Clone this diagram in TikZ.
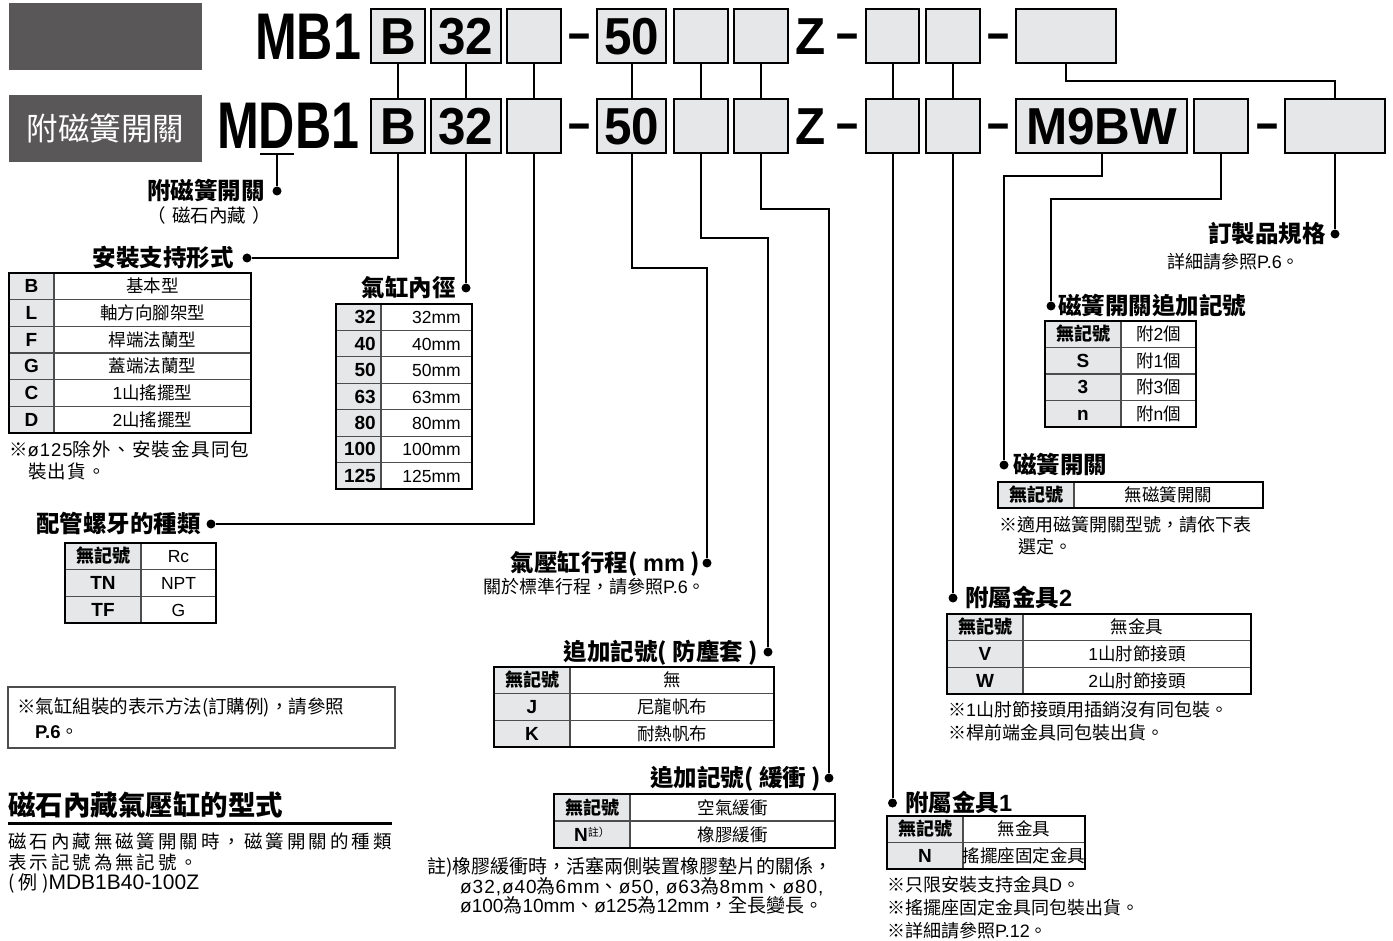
\documentclass[tikz,border=0pt]{standalone}
\usepackage{fontspec}
\usepackage{graphicx}
\setmainfont{Noto Sans CJK TC}
\newfontfamily\latf{Liberation Sans}
\newfontfamily\latls{Liberation Sans}[LetterSpace=5]
\newfontfamily\cjkls{Noto Sans CJK TC}[LetterSpace=16]
\newfontfamily\cjkl{Noto Sans CJK TC}[LetterSpace=7]
\newcommand\fs[1]{\fontsize{#1}{#1}\selectfont}
\newcommand\lt[1]{{\latf #1}}
\newcommand\lts[1]{{\latls #1}}
\newcommand\kb[1]{{\latf\bfseries\fs{19}#1}}
\newcommand\ctx[1]{{\latf\bfseries\fs{52}\scalebox{0.95}[1]{#1}}}
\newcommand\cbig[1]{{\latf\bfseries\fs{66}\scalebox{0.76}[1]{#1}}}
\newcommand\cdash{{\latf\bfseries\fs{52}\scalebox{0.76}[1]{–}}}
\definecolor{boxgray}{HTML}{E6E7E8}
\definecolor{darkbox}{HTML}{595757}
\definecolor{rule}{HTML}{4D4D4D}
\newcommand\tbl[8]{%
  \foreach \kk/\vv [count=\ii] in {#8}{%
    \pgfmathsetmacro\ya{#5+(\ii-1)*(#6-#5)/#7}%
    \pgfmathsetmacro\yb{#5+\ii*(#6-#5)/#7}%
    \path[kcell] (#2,\ya) rectangle (#3,\yb);
    \path[vcell] (#3,\ya) rectangle (#4,\yb);
    \node[ktxt] (#1k\ii) at ({(#2+#3)/2},{(\ya+\yb)/2+6.5}) {\kk};
    \node[vtxt] (#1v\ii) at ({(#3+#4)/2},{(\ya+\yb)/2+6.5}) {\vv};
  }%
  \draw[tframe] (#2,#5) rectangle (#4,#6);
  \draw[ttop] (#2,#5) -- (#4,#5);
}
\begin{document}
\begin{tikzpicture}[x=1pt,y=-1pt,
  conn/.style={line width=2pt, black},
  dot/.style={circle, fill=black, inner sep=0pt, minimum size=9pt},
  cbox/.style={draw=black, line width=2pt, fill=boxgray, minimum height=54pt, inner sep=0pt},
  graylbl/.style={fill=darkbox, minimum width=193pt, minimum height=67pt, inner sep=0pt, text=white, font=\fs{31.5}},
  plain/.style={inner sep=0pt},
  hd/.style={inner sep=0pt, font=\bfseries\fs{23.5}},
  note/.style={inner sep=0pt, font=\fs{18}},
  kcell/.style={fill=boxgray, draw=rule, line width=1.2pt},
  vcell/.style={fill=white, draw=rule, line width=1.2pt},
  ktxt/.style={anchor=base, inner sep=0pt, font=\bfseries\fs{18}},
  vtxt/.style={anchor=base, inner sep=0pt, font=\fs{17.5}},
  tframe/.style={draw=black, line width=1.5pt},
  ttop/.style={draw=black, line width=2.6pt}]
\useasboundingbox (0,0) rectangle (1393,941);

% dark label boxes
\node[graylbl] (g1) at (105.5,36.5) {};
\node[graylbl] (g2) at (105.5,128.5) {附磁簧開關};

% code rows
\node[plain, anchor=base west] (mb1) at (255,60) {\cbig{MB1}};
\node[plain, anchor=base west] (mdb1) at (217,149) {\cbig{MDB1}};

\node[cbox, minimum width=54pt] (tB) at (398,36.5) {\ctx{B}};
\node[cbox, minimum width=70pt] (t32) at (466,36.5) {\ctx{32}};
\node[cbox, minimum width=54pt] (t3) at (534,36.5) {};
\node[plain, anchor=base] (td1) at (579,50.5) {\cdash};
\node[cbox, minimum width=69pt] (t50) at (631.5,36.5) {\ctx{50}};
\node[cbox, minimum width=54pt] (t5) at (701,36.5) {};
\node[cbox, minimum width=54pt] (t6) at (761,36.5) {};
\node[plain, anchor=base] (tZ) at (811,55) {\ctx{Z}};
\node[plain, anchor=base] (td2) at (847,50.5) {\cdash};
\node[cbox, minimum width=53pt] (t7) at (892.5,36.5) {};
\node[cbox, minimum width=54pt] (t8) at (953,36.5) {};
\node[plain, anchor=base] (td3) at (998,50.5) {\cdash};
\node[cbox, minimum width=100pt] (t9) at (1066,36.5) {};

\node[cbox, minimum width=54pt] (bB) at (398,126.5) {\ctx{B}};
\node[cbox, minimum width=70pt] (b32) at (466,126.5) {\ctx{32}};
\node[cbox, minimum width=54pt] (b3) at (534,126.5) {};
\node[plain, anchor=base] (bd1) at (579,140.5) {\cdash};
\node[cbox, minimum width=69pt] (b50) at (631.5,126.5) {\ctx{50}};
\node[cbox, minimum width=54pt] (b5) at (701,126.5) {};
\node[cbox, minimum width=54pt] (b6) at (761,126.5) {};
\node[plain, anchor=base] (bZ) at (811,145) {\ctx{Z}};
\node[plain, anchor=base] (bd2) at (847,140.5) {\cdash};
\node[cbox, minimum width=53pt] (b7) at (892.5,126.5) {};
\node[cbox, minimum width=54pt] (b8) at (953,126.5) {};
\node[plain, anchor=base] (bd3) at (998,140.5) {\cdash};
\node[cbox, minimum width=171pt] (bM) at (1101.5,126.5) {\ctx{M9BW}};
\node[cbox, minimum width=54pt] (b10) at (1221,126.5) {};
\node[plain, anchor=base] (bd4) at (1267,140.5) {\cdash};
\node[cbox, minimum width=100pt] (b11) at (1335,126.5) {};

% top to bottom links
\draw[conn] (tB) -- (bB);
\draw[conn] (t32) -- (b32);
\draw[conn] (t3) -- (b3);
\draw[conn] (t50) -- (b50);
\draw[conn] (t5) -- (b5);
\draw[conn] (t6) -- (b6);
\draw[conn] (t7) -- (b7);
\draw[conn] (t8) -- (b8);
\coordinate (k9) at (1200,81);
\draw[conn] (t9.south) |- (k9) -| (b11.north);

% dots
\node[dot] (dD) at (277,191) {};
\node[dot] (dB) at (247,258) {};
\node[dot] (d32) at (466,288) {};
\node[dot] (d3) at (211,524) {};
\node[dot] (d50) at (707,563) {};
\node[dot] (d5) at (768,652) {};
\node[dot] (d6) at (829,778) {};
\node[dot] (d7) at (892.5,803) {};
\node[dot] (d8) at (953,598) {};
\node[dot] (dM) at (1004,465) {};
\node[dot] (d10) at (1051,306) {};
\node[dot] (d11) at (1335,234) {};

% lower connectors
\coordinate (du1) at (260,154);
\coordinate (du2) at (294,154);
\coordinate (duc) at (277,154);
\draw[conn] (du1) -- (du2);
\draw[conn] (duc) -- (dD);
\draw[conn] (bB.south) |- (dB);
\draw[conn] (b32.south) -- (d32);
\draw[conn] (b3.south) |- (d3);
\coordinate (k50) at (707,268);
\draw[conn] (b50.south) |- (k50) -- (d50);
\coordinate (k5) at (768,238);
\draw[conn] (b5.south) |- (k5) -- (d5);
\coordinate (k6) at (829,209);
\draw[conn] (b6.south) |- (k6) -- (d6);
\draw[conn] (b7.south) -- (d7);
\draw[conn] (b8.south) -- (d8);
\coordinate (kM) at (1004,176);
\draw[conn] (bM.south) |- (kM) -- (dM);
\coordinate (k10) at (1051,199);
\draw[conn] (b10.south) |- (k10) -- (d10);
\draw[conn] (b11.south) -- (d11);

% headings
\node[hd, anchor=base east] (hD) at (265,199.5) {附磁簧開關};
\node[note, anchor=base east, font=\fs{18.5}] (hDs) at (271,222.5) {（\hspace{6pt}磁石內藏\hspace{6pt}）};
\node[hd, anchor=base east] (hB) at (234,266.5) {安裝支持形式};
\node[hd, anchor=base east] (h32) at (456,296.5) {氣缸內徑};
\node[hd, anchor=base east] (h3) at (201,532.5) {配管螺牙的種類};
\node[hd, anchor=base east] (h50) at (700,571.5) {氣壓缸行程( {\latf mm} )};
\node[hd, anchor=base east] (h5) at (758,660.5) {追加記號( 防塵套 )};
\node[hd, anchor=base east] (h6) at (821,786.5) {追加記號( 緩衝 )};
\node[hd, anchor=base east] (h11) at (1326,242.5) {訂製品規格};
\node[hd, anchor=base west] (h10) at (1058,314.5) {磁簧開關追加記號};
\node[hd, anchor=base west] (hM) at (1013,473.5) {磁簧開關};
\node[hd, anchor=base west] (h8) at (965,606.5) {附屬金具\lt{2}};
\node[hd, anchor=base west] (h7) at (905,811.5) {附屬金具\lt{1}};

% tables
\tbl{ta}{9}{54}{251}{273}{433}{6}{\kb{B}/基本型, \kb{L}/軸方向腳架型, \kb{F}/桿端法蘭型, \kb{G}/蓋端法蘭型, \kb{C}/\lt{1}山搖擺型, \kb{D}/\lt{2}山搖擺型}
\foreach \kk/\vv [count=\ii] in {32/32mm,40/40mm,50/50mm,63/63mm,80/80mm,100/100mm,125/125mm}{%
  \pgfmathsetmacro\ya{304+(\ii-1)*185/7}%
  \pgfmathsetmacro\yb{304+\ii*185/7}%
  \path[kcell] (336,\ya) rectangle (381,\yb);
  \path[vcell] (381,\ya) rectangle (472,\yb);
  \node[ktxt, anchor=base east] (tbk\ii) at (376,{(\ya+\yb)/2+6.5}) {\kb{\kk}};
  \node[vtxt, anchor=base east] (tbv\ii) at (461,{(\ya+\yb)/2+6.5}) {\lt{\vv}};
}
\draw[tframe] (336,304) rectangle (472,489);
\draw[ttop] (336,304) -- (472,304);
\tbl{tc}{65}{141}{216}{543}{623}{3}{無記號/\lt{Rc}, \kb{TN}/\lt{NPT}, \kb{TF}/\lt{G}}
\tbl{td}{494}{570}{774}{667}{747}{3}{無記號/無, \kb{J}/尼龍帆布, \kb{K}/耐熱帆布}
\tbl{te}{554}{630}{835}{794}{848}{2}{無記號/空氣緩衝, {\kb{N}\raisebox{5pt}{\mdseries\fs{11}註）}}/橡膠緩衝}
\tbl{tf}{1045}{1121}{1196}{321}{427}{4}{無記號/附\lt{2}個, \kb{S}/附\lt{1}個, \kb{3}/附\lt{3}個, \kb{n}/附\lt{n}個}
\tbl{tg}{998}{1074}{1263}{482}{508}{1}{無記號/無磁簧開關}
\tbl{th}{947}{1023}{1251}{614}{694}{3}{無記號/無金具, \kb{V}/\lt{1}山肘節接頭, \kb{W}/\lt{2}山肘節接頭}
\tbl{ti}{887}{963}{1085}{816}{869}{2}{無記號/無金具, \kb{N}/搖擺座固定金具}

% notes
\node[note, anchor=base west, font=\cjkl\fs{18.5}] (na1) at (9,456.5) {※\lts{ø125}除外、安裝金具同包};
\node[note, anchor=base west, font=\cjkl\fs{18.5}] (na2) at (28,478.5) {裝出貨。};
\node[note, anchor=base east] (n50) at (706,593.5) {關於標準行程，請參照\lt{P.6}。};
\node[note, anchor=base east] (n11) at (1300,268.5) {詳細請參照\lt{P.6}。};
\node[note, anchor=base west] (nM1) at (999,531.5) {※適用磁簧開關型號，請依下表};
\node[note, anchor=base west] (nM2) at (1018,553.5) {選定。};
\node[note, anchor=base west] (n81) at (948,716.5) {※\lt{1}山肘節接頭用插銷沒有同包裝。};
\node[note, anchor=base west] (n82) at (948,739.5) {※桿前端金具同包裝出貨。};
\node[note, anchor=base west] (n71) at (887,891.5) {※只限安裝支持金具\lt{D}。};
\node[note, anchor=base west] (n72) at (887,914.5) {※搖擺座固定金具同包裝出貨。};
\node[note, anchor=base west] (n73) at (887,937.5) {※詳細請參照\lt{P.12}。};
\node[note, anchor=base west, font=\fs{19}] (nc1) at (427,873.5) {註)橡膠緩衝時，活塞兩側裝置橡膠墊片的關係，};
\node[note, anchor=base west, font=\fs{19}] (nc2) at (460,893.5) {\lts{ø32,ø40}為\lts{6mm}、\lts{ø50, ø63}為\lts{8mm}、\lts{ø80,}};
\node[note, anchor=base west, font=\fs{19}] (nc3) at (460,912.5) {\lt{ø100}為\lt{10mm}、\lt{ø125}為\lt{12mm}，全長變長。};

% boxed note
\node[draw=rule, line width=1.3pt, minimum width=387pt, minimum height=61pt, inner sep=0pt] (nbox) at (201.5,717.5) {};
\node[note, anchor=base west, font=\fs{18.5}] (nb1) at (17,713.5) {※氣缸組裝的表示方法(訂購例)，請參照};
\node[note, anchor=base west, font=\fs{18.5}] (nb2) at (35,738.5) {{\latf\bfseries P.6}。};

% magnet cylinder section
\node[plain, anchor=base west, font=\bfseries\fs{27.5}] (ms) at (8,815) {磁石內藏氣壓缸的型式};
\coordinate (ul1) at (8,823);
\coordinate (ul2) at (392,823);
\draw[line width=3pt] (ul1) -- (ul2);
\node[plain, anchor=base west, font=\cjkls\fs{18.5}] (mb1t) at (8,848.5) {磁石內藏無磁簧開關時，磁簧開關的種類};
\node[plain, anchor=base west, font=\cjkls\fs{18.5}] (mb2t) at (8,869.5) {表示記號為無記號。};
\node[plain, anchor=base west, font=\fs{19}] (mb3t) at (8,889.5) {( 例 )\lt{\fs{21}MDB1B40-100Z}};
\end{tikzpicture}
\end{document}
